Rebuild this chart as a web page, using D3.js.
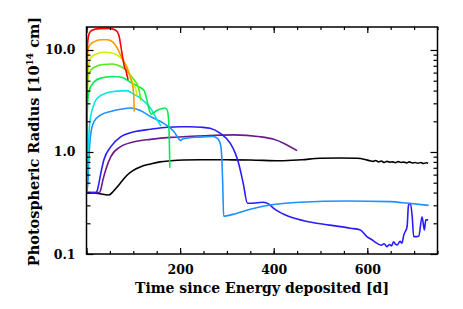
<!DOCTYPE html>
<html>
<head>
<meta charset="utf-8">
<script src="https://cdn.jsdelivr.net/npm/d3@7"></script>
<style>
  body { margin: 0; background: #fff; }
  svg text { font-family: "DejaVu Serif", serif; fill: #000; }
</style>
</head>
<body>
<div id="chart"></div>
<script>
// size of the picture
var width = 463;
var height = 309;
var margin = {left: 86.5, right: 25.5, top: 27, bottom: 55};

// ---- data: time since energy deposited [d] and photospheric radius [1e14 cm]
var tRed = [0, 0.6, 1.5, 3, 6, 12, 27, 48, 62, 69, 73, 77, 80, 82, 84, 86, 89];
var rRed = [0.4, 3, 9, 12.5, 14.6, 15.6, 16.2, 16.3, 15.7, 14, 11.2, 8.6, 7.2, 6.6, 6.4, 5.8, 5.1];

var tOrange = [0, 1, 2, 3.2, 9, 16, 30, 45, 52, 59, 66, 73, 80, 87, 94, 99, 101, 102];
var rOrange = [0.4, 2, 6, 10.2, 11.4, 12.0, 12.6, 12.6, 12.3, 11.6, 10.4, 8.9, 7.7, 6.6, 5.3, 4.4, 3.5, 2.5];

var tYellow = [0, 1, 2, 5, 9, 20, 37, 52, 66, 77, 88, 95, 100, 106, 108];
var rYellow = [0.4, 2, 5, 7.3, 8.4, 9.1, 9.5, 9.4, 8.9, 8.0, 6.6, 5.3, 4.6, 4.0, 3.6];

var tLime = [0, 1, 2, 4, 10, 20, 35, 55, 70, 85, 100, 110, 113, 116];
var rLime = [0.4, 2, 4.3, 5.6, 6.4, 6.9, 7.2, 7.3, 7.0, 6.3, 5.2, 4.4, 3.9, 3.2];

var tGreen = [0, 1, 2, 5, 15, 30, 55, 75, 95, 110, 123, 130, 135, 138, 143, 150, 160, 167, 172, 175, 177, 178];
var rGreen = [0.4, 1.5, 2.7, 3.9, 4.8, 5.3, 5.5, 5.4, 4.8, 4.4, 4.0, 3.1, 2.5, 2.35, 2.42, 2.55, 2.65, 2.7, 2.6, 2.2, 1.3, 0.7];

var tCyan = [0, 2, 4, 5.3, 8, 12.4, 23, 44, 65, 86, 100, 116, 137, 151, 159];
var rCyan = [0.4, 0.6, 1.0, 1.5, 2.1, 2.6, 3.36, 3.8, 3.95, 4.0, 3.7, 3.36, 2.68, 2.06, 1.8];

var tSky = [0, 3, 5.3, 9, 16, 30, 52, 73, 95, 115, 137, 165, 187, 198, 201, 205, 240, 270, 280, 286, 289, 291, 293,
            320, 350, 392, 457, 556, 649, 688, 731];
var rSky = [0.4, 0.5, 0.9, 1.5, 1.98, 2.3, 2.5, 2.62, 2.7, 2.55, 2.22, 1.91, 1.58, 1.33, 1.29, 1.34, 1.40, 1.42, 1.36, 1.2, 0.9, 0.5, 0.235,
            0.25, 0.274, 0.302, 0.322, 0.331, 0.326, 0.314, 0.30];

var tBlue = [0, 20, 23, 30, 37, 52, 73, 102, 137, 173, 201, 221, 245, 264, 286, 307, 318, 325, 335, 344, 350, 365, 378, 389,
             400, 425, 464, 520, 564, 585, 599, 610, 621, 630, 636, 642, 648, 652, 656, 660, 664, 670, 674, 678, 685, 688,
             692, 696, 699, 705, 710, 717, 722, 725, 730];
var rBlue = [0.4, 0.4, 0.42, 0.6, 0.835, 1.13, 1.41, 1.58, 1.67, 1.75, 1.77, 1.77, 1.75, 1.71, 1.52, 1.22, 0.97, 0.775, 0.49, 0.314, 0.314, 0.318, 0.322, 0.31,
             0.28, 0.241, 0.212, 0.192, 0.179, 0.172, 0.148, 0.138, 0.127, 0.122, 0.126, 0.118, 0.124, 0.12, 0.132, 0.125, 0.123, 0.133, 0.128, 0.154, 0.185, 0.30,
             0.314, 0.232, 0.148, 0.148, 0.15, 0.232, 0.172, 0.216, 0.216];

var tPurple = [0, 27, 30, 35, 41, 52, 73, 102, 137, 180, 207, 260, 314, 371, 400, 421, 450];
var rPurple = [0.4, 0.4, 0.42, 0.53, 0.666, 0.9, 1.13, 1.26, 1.33, 1.39, 1.41, 1.45, 1.47, 1.41, 1.33, 1.22, 1.03];

var tBlack = [0, 20, 48, 57, 66, 76, 87, 100, 116, 137, 157, 180, 207, 244, 300, 350, 414, 460, 499, 540, 578, 595, 606,
              612, 618, 624, 630, 636, 642, 648, 654, 660, 666, 672, 678, 684, 690, 696, 702, 708, 714, 720, 726, 730];
var rBlack = [0.4, 0.395, 0.379, 0.41, 0.457, 0.52, 0.595, 0.66, 0.718, 0.763, 0.8, 0.82, 0.835, 0.84, 0.838, 0.835, 0.82, 0.84, 0.867, 0.872, 0.867, 0.845, 0.82,
              0.81, 0.825, 0.80, 0.815, 0.79, 0.81, 0.795, 0.80, 0.785, 0.805, 0.79, 0.795, 0.78, 0.80, 0.78, 0.79, 0.775, 0.79, 0.77, 0.785, 0.775];

// series list for drawing (back to front)
var series = [
  {t: tBlack, r: rBlack, color: "#000000"},
  {t: tPurple, r: rPurple, color: "#6c1a8c"},
  {t: tBlue, r: rBlue, color: "#2a1cff"},
  {t: tSky, r: rSky, color: "#1e90ff"},
  {t: tCyan, r: rCyan, color: "#00e6e6"},
  {t: tGreen, r: rGreen, color: "#00ec50"},
  {t: tLime, r: rLime, color: "#5ae81a"},
  {t: tYellow, r: rYellow, color: "#cdf000"},
  {t: tOrange, r: rOrange, color: "#ff9a00"},
  {t: tRed, r: rRed, color: "#ff0000"}
];

var xMajor = [0, 200, 400, 600];
var xMinor = d3.range(0, 751, 50);
var yMajor = [0.1, 1, 10];
var yMinor = [0.2, 0.3, 0.4, 0.5, 0.6, 0.7, 0.8, 0.9, 2, 3, 4, 5, 6, 7, 8, 9];
var xTickLabels = ["", "200", "400", "600"];
var yTickLabels = ["0.1", "1.0", "10.0"];

// initialize the SVG
var svg = d3.select("#chart")
            .append("svg")
            .attr("width", width)
            .attr("height", height);

var x = d3.scaleLinear()
          .domain([0, 750])
          .range([margin.left, width - margin.right]);
var y = d3.scaleLog()
          .domain([0.1, 16.8])
          .range([height - margin.bottom, margin.top]);

var plot = svg.append("g");

// clip to the plotting box
svg.append("clipPath").attr("id", "box")
   .append("rect")
   .attr("x", margin.left).attr("y", margin.top)
   .attr("width", x.range()[1] - x.range()[0])
   .attr("height", y.range()[0] - y.range()[1]);

var line = d3.line()
             .x(function(d) {return x(d[0]);})
             .y(function(d) {return y(d[1]);})
             .curve(d3.curveMonotoneX);

plot.attr("clip-path", "url(#box)")
    .selectAll("path")
    .data(series)
    .enter()
    .append("path")
    .attr("d", function(s) {return line(d3.zip(s.t, s.r));})
    .attr("fill", "none")
    .attr("stroke", function(s) {return s.color;})
    .attr("stroke-width", 1.6)
    .attr("stroke-linejoin", "round");

// axes: labels on bottom/left, mirrored ticks on top/right
function styleAxis(g) {
  g.select(".domain").remove();
  g.selectAll(".tick line").attr("stroke", "#000").attr("stroke-width", 1.2);
  g.selectAll("text").attr("font-size", 12.5).attr("fill", "#000")
   .attr("font-weight", "bold")
   .style("font-family", "DejaVu Serif, serif");
}

var bottom = height - margin.bottom;
var right = width - margin.right;

svg.append("g").attr("transform", "translate(0," + bottom + ")")
   .call(d3.axisBottom(x).tickValues(xMajor).tickSize(-6).tickPadding(11)
           .tickFormat(function(d, i) {return xTickLabels[i];}))
   .call(styleAxis);
svg.append("g").attr("transform", "translate(0," + bottom + ")")
   .call(d3.axisBottom(x).tickValues(xMinor).tickSize(-3).tickFormat(""))
   .call(styleAxis);
svg.append("g").attr("transform", "translate(0," + margin.top + ")")
   .call(d3.axisTop(x).tickValues(xMajor).tickSize(-6).tickFormat(""))
   .call(styleAxis);
svg.append("g").attr("transform", "translate(0," + margin.top + ")")
   .call(d3.axisTop(x).tickValues(xMinor).tickSize(-3).tickFormat(""))
   .call(styleAxis);

svg.append("g").attr("transform", "translate(" + margin.left + ",0)")
   .call(d3.axisLeft(y).tickValues(yMajor).tickSize(-7).tickPadding(11)
           .tickFormat(function(d, i) {return yTickLabels[i];}))
   .call(styleAxis);
svg.append("g").attr("transform", "translate(" + margin.left + ",0)")
   .call(d3.axisLeft(y).tickValues(yMinor).tickSize(-4).tickFormat(""))
   .call(styleAxis);
svg.append("g").attr("transform", "translate(" + right + ",0)")
   .call(d3.axisRight(y).tickValues(yMajor).tickSize(-7).tickFormat(""))
   .call(styleAxis);
svg.append("g").attr("transform", "translate(" + right + ",0)")
   .call(d3.axisRight(y).tickValues(yMinor).tickSize(-4).tickFormat(""))
   .call(styleAxis);

// frame
svg.append("rect")
   .attr("x", margin.left).attr("y", margin.top)
   .attr("width", right - margin.left)
   .attr("height", bottom - margin.top)
   .attr("fill", "none")
   .attr("stroke", "#000")
   .attr("stroke-width", 1.5);

// axis titles
svg.append("text")
   .attr("x", (margin.left + right) / 2)
   .attr("y", 293)
   .attr("text-anchor", "middle")
   .attr("font-size", 14)
   .attr("font-weight", "bold")
   .text("Time since Energy deposited [d]");

var ylab = svg.append("text")
   .attr("transform", "translate(39," + ((margin.top + bottom) / 2 + 1) + ") rotate(-90)")
   .attr("text-anchor", "middle")
   .attr("font-size", 14.5)
   .attr("font-weight", "bold");
ylab.append("tspan").text("Photospheric Radius [10");
ylab.append("tspan").attr("font-size", 9).attr("dy", -6).text("14");
ylab.append("tspan").attr("dy", 6).text(" cm]");
</script>
</body>
</html>
